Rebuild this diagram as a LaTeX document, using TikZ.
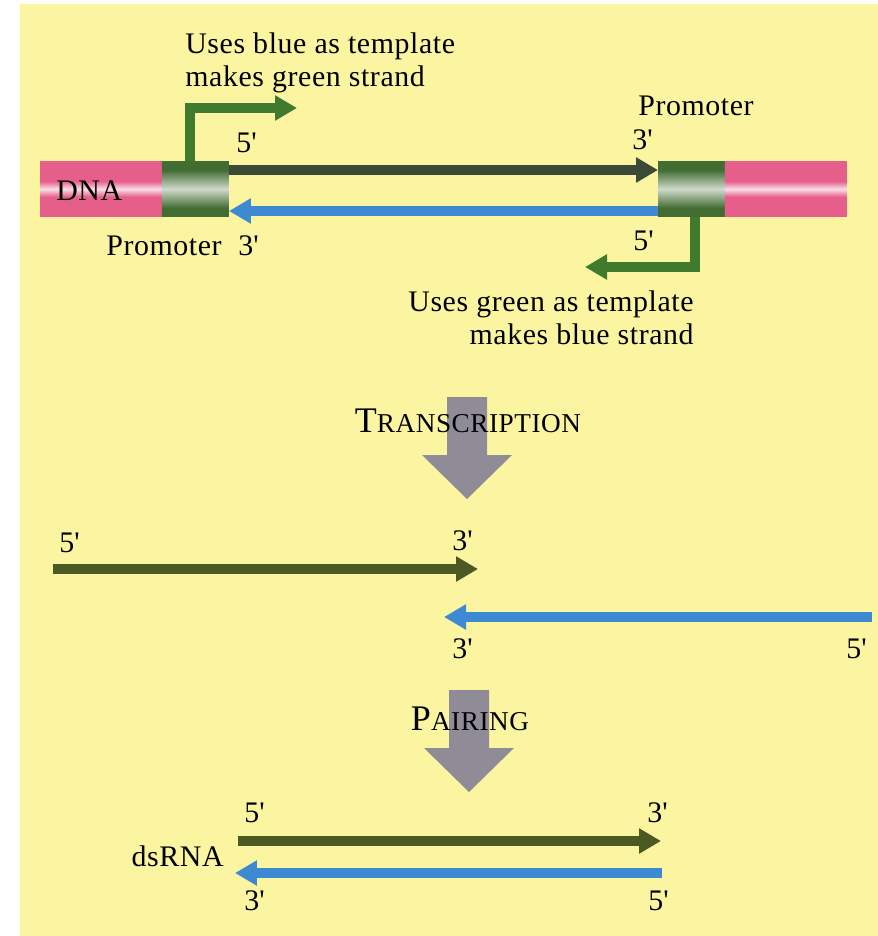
\documentclass[tikz,border=0pt]{standalone}
\usepackage{fontspec}
\setmainfont{Liberation Serif}[LetterSpace=2]
\usetikzlibrary{arrows.meta, positioning}
\definecolor{pageyellow}{HTML}{FBF5A1}
\definecolor{dnapink}{HTML}{E65E8A}
\definecolor{promgreen}{HTML}{416C32}
\definecolor{bentgreen}{HTML}{3F7A2D}
\definecolor{dnadark}{HTML}{3A4A36}
\definecolor{rnagreen}{HTML}{4A5A22}
\definecolor{rnablue}{HTML}{3E8AD2}
\definecolor{stagegray}{HTML}{8F8C98}
\pgfdeclareverticalshading{pinkband}{100bp}{color(0bp)=(dnapink); color(43bp)=(dnapink);
  color(50bp)=(dnapink!20!white); color(57bp)=(dnapink); color(100bp)=(dnapink)}
\pgfdeclareverticalshading{greenband}{100bp}{color(0bp)=(promgreen); color(33bp)=(promgreen);
  color(50bp)=(promgreen!25!white); color(67bp)=(promgreen); color(100bp)=(promgreen)}
\newcommand{\fakesc}[2]{{\fontsize{20.5}{20}\selectfont #1}{\fontsize{15.5}{20}\selectfont #2}}
\newcommand{\prm}[1]{#1\textquotesingle}

\begin{document}
\begin{tikzpicture}[
  x=0.02cm, y=-0.02cm,
  bar/.style={minimum height=11.2mm, inner sep=0pt, outer sep=0pt},
  pinkbar/.style={bar, minimum width=24.4mm, shading=pinkband},
  prombox/.style={bar, minimum width=13.4mm, shading=greenband},
  lbl/.style={font=\fontsize{17}{19}\selectfont, inner sep=0pt},
  primelbl/.style={lbl, anchor=base west},
  strand/.style={line width=2mm, -{Triangle[length=4.4mm, width=4.8mm]}},
  bent/.style={strand, bentgreen, line join=miter},
  stagelbl/.style={inner sep=0pt, anchor=base}
]
\useasboundingbox (0,0) rectangle (878,936);
\fill[white] (0,0) rectangle (880,940);
\fill[pageyellow] (20,4) rectangle (880,940);

% ---- DNA with the two promoters ----
\node[pinkbar, anchor=north west] (dnaL) at (40,161) {};
\node[prombox, anchor=west] (promL) at (dnaL.east) {};
\node[prombox, anchor=north west] (promR) at (658,161) {};
\node[pinkbar, anchor=west] (dnaR) at (promR.east) {};
\node[lbl, anchor=base west] (dnaLbl) at (56,200) {DNA};

\draw[strand, dnadark] ([yshift=-1.8mm]promL.north east) -- ([yshift=-1.8mm]promR.north west);
\draw[strand, rnablue] ([yshift=1.2mm]promR.south west) -- ([yshift=1.2mm]promL.south east);

\coordinate (tipL) at (297,108);
\coordinate (tipR) at (585,267);
\draw[bent] ([xshift=-1mm]promL.north) |- (tipL);
\draw[bent] ([xshift=0.6mm]promR.south) |- (tipR);

\node[lbl, anchor=north west, align=left] (usesBlue) at (185,32) {Uses blue as template\\makes green strand};
\node[lbl, anchor=north east, align=right] (usesGreen) at (694,290) {Uses green as template\\makes blue strand};
\node[lbl, anchor=base west] (promRLbl) at (638,115) {Promoter};
\node[lbl, anchor=base west] (promLLbl) at (106,255) {Promoter};
\node[primelbl] (top5) at (236,153) {\prm{5}};
\node[primelbl] (top3) at (632,150) {\prm{3}};
\node[primelbl] (low3) at (238,255) {\prm{3}};
\node[primelbl] (low5) at (633,250) {\prm{5}};

% ---- stage arrows ----
\coordinate (trTop) at (467,397);
\coordinate (paTop) at (469,690);
\foreach \t in {trTop, paTop}
  \fill[stagegray] (\t) ++(-20,0) -- ++(40,0) -- ++(0,58) -- ++(25,0)
    -- ++(-45,44) -- ++(-45,-44) -- ++(25,0) -- cycle;
\node[stagelbl] (trLbl) at (468,432) {\fakesc{T}{RANSCRIPTION}};
\node[stagelbl] (paLbl) at (470,730) {\fakesc{P}{AIRING}};

% ---- single strands ----
\coordinate (gS) at (53,569);
\coordinate (gE) at (478,569);
\coordinate (bS) at (872,617);
\coordinate (bE) at (444,617);
\draw[strand, rnagreen] (gS) -- (gE);
\draw[strand, rnablue] (bS) -- (bE);
\node[primelbl] (m5a) at (59,552) {\prm{5}};
\node[primelbl] (m3a) at (452,550) {\prm{3}};
\node[primelbl] (m3b) at (452,658) {\prm{3}};
\node[primelbl] (m5b) at (846,658) {\prm{5}};

% ---- dsRNA ----
\coordinate (dgS) at (238,841);
\coordinate (dgE) at (661,841);
\coordinate (dbS) at (662,873);
\coordinate (dbE) at (235,873);
\draw[strand, rnagreen] (dgS) -- (dgE);
\draw[strand, rnablue] (dbS) -- (dbE);
\node[lbl, anchor=base east] (dsLbl) at (224,866) {dsRNA};
\node[primelbl] (d5a) at (244,822) {\prm{5}};
\node[primelbl] (d3a) at (647,822) {\prm{3}};
\node[primelbl] (d3b) at (244,910) {\prm{3}};
\node[primelbl] (d5b) at (648,910) {\prm{5}};
\end{tikzpicture}
\end{document}
